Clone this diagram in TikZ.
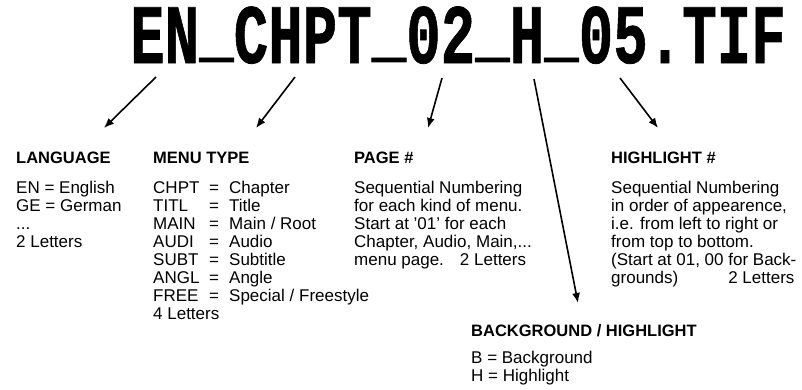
\documentclass[tikz,border=0pt]{standalone}
\usepackage{fontspec}
\setmainfont{Liberation Sans}
\newfontfamily\titlefont{Liberation Mono}[BoldFeatures={FakeBold=0.9}]
\usetikzlibrary{arrows.meta}
\tikzset{
  titletext/.style={anchor=base, inner sep=0pt, font=\titlefont\bfseries\fontsize{57.5}{57.5}\selectfont},
  heading/.style={anchor=base west, inner sep=0pt, font=\bfseries\fontsize{16.5}{18}\selectfont},
  body/.style={anchor=north west, inner sep=0pt, align=left, font=\fontsize{17}{18}\selectfont},
  pointer/.style={line width=1.6pt, -{Latex[length=10pt,width=8pt]}},
}
\newcommand{\mrow}[2]{\makebox[56pt][l]{#1}\makebox[20pt][l]{=}#2}
\newcommand{\tus}{\raisebox{0.12em}{\_}}
\begin{document}
\begin{tikzpicture}[x=1pt,y=-1pt]
\useasboundingbox (0,0) rectangle (802,389);
\node[titletext] (title) at (458,63) {\scalebox{1}[1.47]{EN\tus CHPT\tus 02\tus H\tus 05.TIF}};

\node[heading] (lang) at (16,163) {LANGUAGE};
\node[body] (langb) at (16,180.4) {\strut EN = English\\GE = German\\...\\2 Letters};

\node[heading] (menu) at (153,163) {MENU TYPE};
\node[body] (menub) at (153,180.4) {\strut\mrow{CHPT}{Chapter}\\\mrow{TITL}{Title}\\\mrow{MAIN}{Main / Root}\\\mrow{AUDI}{Audio}\\\mrow{SUBT}{Subtitle}\\\mrow{ANGL}{Angle}\\\mrow{FREE}{Special / Freestyle}\\4 Letters};

\node[heading] (page) at (354,163) {PAGE \#};
\node[body] (pageb) at (354,180.4) {\strut Sequential Numbering\\for each kind of menu.\\Start at '01' for each\\Chapter, Audio, Main,...\\menu page.\hspace{16pt}2 Letters};

\node[heading] (hl) at (611,163) {HIGHLIGHT \#};
\node[body] (hlb) at (611,180.4) {\strut Sequential Numbering\\in order of appearence,\\i.e. from left to right or\\from top to bottom.\\(Start at 01, 00 for Back-\\grounds)\hspace{50pt}2 Letters};

\node[heading] (bg) at (471,336) {BACKGROUND / HIGHLIGHT};
\node[body] (bgb) at (471,350.4) {\strut B = Background\\H = Highlight};

\coordinate (s1) at (156,77);  \coordinate (e1) at (104,128);
\coordinate (s2) at (295,77);  \coordinate (e2) at (256,128);
\coordinate (s3) at (442,78);  \coordinate (e3) at (428,128);
\coordinate (s4) at (534,79);  \coordinate (e4) at (578,303);
\coordinate (s5) at (620,78);  \coordinate (e5) at (658,128);
\draw[pointer] (s1) -- (e1);
\draw[pointer] (s2) -- (e2);
\draw[pointer] (s3) -- (e3);
\draw[pointer] (s4) -- (e4);
\draw[pointer] (s5) -- (e5);
\end{tikzpicture}
\end{document}
